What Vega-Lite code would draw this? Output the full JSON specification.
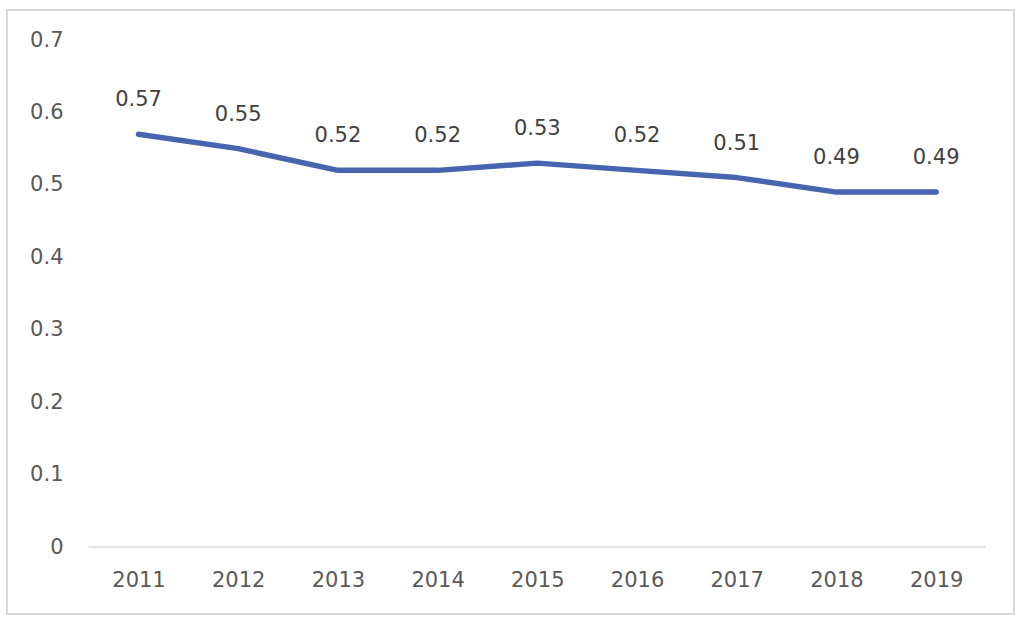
{
  "$schema": "https://vega.github.io/schema/vega-lite/v6.json",
  "width": 1007,
  "height": 604,
  "autosize": {"type": "none"},
  "padding": {"left": 7, "top": 10, "right": 10, "bottom": 7},
  "background": "white",
  "config": {
    "view": {"stroke": "#d9d9d9", "strokeWidth": 2},
    "font": "DejaVu Sans"
  },
  "datasets": {
    "series": [
      {"year": 2011, "value": 0.57},
      {"year": 2012, "value": 0.55},
      {"year": 2013, "value": 0.52},
      {"year": 2014, "value": 0.52},
      {"year": 2015, "value": 0.53},
      {"year": 2016, "value": 0.52},
      {"year": 2017, "value": 0.51},
      {"year": 2018, "value": 0.49},
      {"year": 2019, "value": 0.49}
    ],
    "baseline": [{"start": 2010.5, "end": 2019.5, "value": 0}]
  },
  "encoding": {
    "x": {
      "field": "year",
      "type": "quantitative",
      "scale": {"domain": [2009.681, 2019.781], "nice": false, "zero": false},
      "axis": {
        "orient": "bottom",
        "offset": -67,
        "values": [2011, 2012, 2013, 2014, 2015, 2016, 2017, 2018, 2019],
        "format": "d",
        "title": null,
        "domain": false,
        "ticks": false,
        "tickSize": 0,
        "grid": false,
        "labelPadding": 22,
        "labelFontSize": 21,
        "labelColor": "#595959",
        "labelFlush": false,
        "labelOverlap": false
      }
    },
    "y": {
      "field": "value",
      "type": "quantitative",
      "scale": {"domain": [-0.0925, 0.74142], "nice": false, "zero": false},
      "axis": {
        "orient": "left",
        "offset": -56,
        "values": [0, 0.1, 0.2, 0.3, 0.4, 0.5, 0.6, 0.7],
        "format": "~g",
        "title": null,
        "domain": false,
        "ticks": false,
        "tickSize": 0,
        "grid": false,
        "labelPadding": 0,
        "labelFontSize": 21,
        "labelColor": "#595959",
        "labelFlush": false,
        "labelOverlap": false
      }
    }
  },
  "layer": [
    {
      "data": {"name": "baseline"},
      "mark": {"type": "rule", "color": "#d9d9d9", "strokeWidth": 1.5},
      "encoding": {
        "x": {"field": "start", "type": "quantitative"},
        "x2": {"field": "end"},
        "y": {"field": "value", "type": "quantitative"}
      }
    },
    {
      "data": {"name": "series"},
      "mark": {"type": "line", "color": "#4765AE", "strokeWidth": 5.5, "strokeCap": "round", "strokeJoin": "round"}
    },
    {
      "data": {"name": "series"},
      "mark": {"type": "text", "dy": -34, "baseline": "middle", "align": "center", "fontSize": 21, "color": "#404040"},
      "encoding": {
        "text": {"field": "value", "type": "quantitative", "format": ".2f"}
      }
    }
  ]
}
